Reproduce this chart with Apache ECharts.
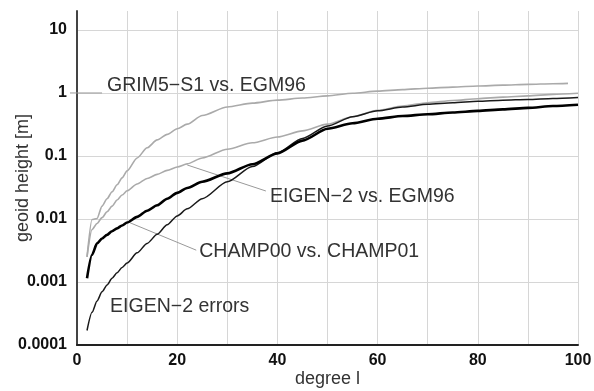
<!DOCTYPE html>
<html>
<head>
<meta charset="utf-8">
<script src="https://cdn.jsdelivr.net/npm/echarts@6/dist/echarts.min.js"></script>
<style>html,body{margin:0;padding:0;background:#fff}#c{width:594px;height:391px}</style>
</head>
<body>
<div id="c"></div>
<script>
// degree l
const degrees = [2,3,4,5,6,7,8,9,10,12,14,16,18,20,22,25,30,35,40,45,50,55,60,65,70,75,80,85,90,95,100];
const grimDegrees = [2,3,4,5,6,7,8,9,10,12,14,16,18,20,22,25,30,35,40,45,50,55,60,65,70,75,80,85,90,95,98];
// geoid height [m]
const grimVsEgm = [0.0025,0.0098,0.0102,0.016,0.021,0.027,0.035,0.045,0.058,0.093,0.135,0.18,0.22,0.27,0.32,0.44,0.6,0.69,0.77,0.83,0.9,0.99,1.07,1.13,1.19,1.24,1.29,1.33,1.37,1.4,1.42];
const eigenVsEgm = [0.0025,0.0068,0.0085,0.0105,0.013,0.016,0.02,0.024,0.028,0.036,0.044,0.051,0.059,0.067,0.075,0.093,0.128,0.162,0.2,0.25,0.32,0.42,0.53,0.62,0.7,0.76,0.81,0.86,0.9,0.95,0.99];
const champ = [0.00115,0.0027,0.0041,0.0049,0.0056,0.0064,0.0071,0.0079,0.0088,0.0108,0.0135,0.0165,0.021,0.026,0.031,0.039,0.053,0.074,0.11,0.175,0.27,0.33,0.39,0.43,0.46,0.49,0.52,0.55,0.58,0.62,0.65];
const eigenErrors = [0.00017,0.00033,0.0005,0.0007,0.0009,0.00115,0.0014,0.0017,0.002,0.0029,0.0041,0.0057,0.0081,0.0112,0.0145,0.021,0.039,0.068,0.113,0.19,0.3,0.42,0.52,0.6,0.66,0.7,0.74,0.77,0.79,0.82,0.85];
const xTicks = [0,20,40,60,80,100];
const yTicks = [0.0001,0.001,0.01,0.1,1,10];
const yTickLabels = ['0.0001','0.001','0.01','0.1','1','10'];
// annotations: text, anchor [degree, value]
const annoTexts = ['GRIM5\u2212S1 vs. EGM96','EIGEN\u22122 vs. EGM96','CHAMP00 vs. CHAMP01','EIGEN\u22122 errors'];
const annoAt = [[6.0,1.29],[38.5,0.0224],[24.4,0.003],[6.6,0.0004]];
const leaderFrom = [[-1.4,1.0],[22.0,0.072],[10.6,0.0087]];
const leaderTo = [[5.0,1.0],[37.7,0.0278],[23.8,0.0032]];

const pairs = (xs, ys) => xs.map((x, i) => [x, ys[i]]);

const chart = echarts.init(document.getElementById('c'), null, {renderer: 'canvas'});
const lineBase = {type: 'line', showSymbol: false, symbol: 'none', smooth: 0.25, smoothMonotone: 'x', animation: false};
chart.setOption({
  animation: false,
  grid: {left: 77, right: 16, top: 11, bottom: 46, containLabel: false, outerBoundsMode: 'none'},
  xAxis: {
    type: 'value', min: 0, max: 100, interval: 10,
    name: 'degree l', nameLocation: 'middle', nameGap: 25, nameMoveOverlap: false,
    nameTextStyle: {fontFamily: 'Liberation Sans', fontSize: 18, color: '#333'},
    axisLine: {lineStyle: {color: '#222', width: 2}},
    axisTick: {show: false},
    axisLabel: {fontFamily: 'Liberation Sans', fontSize: 16, fontWeight: 'bold', color: '#111', margin: 8,
      formatter: v => xTicks.includes(v) ? String(v) : ''},
    splitLine: {show: true, lineStyle: {color: '#d6d6d6', width: 1}}
  },
  yAxis: {
    type: 'log', logBase: 10, min: 0.0001, max: 20,
    name: 'geoid height [m]', nameLocation: 'middle', nameGap: 45, nameMoveOverlap: false,
    nameTextStyle: {fontFamily: 'Liberation Sans', fontSize: 18, color: '#333'},
    axisLine: {show: true, lineStyle: {color: '#444', width: 2}},
    axisTick: {show: false},
    axisLabel: {fontFamily: 'Liberation Sans', fontSize: 16, fontWeight: 'bold', color: '#111', margin: 10,
      showMaxLabel: false,
      formatter: v => { for (let i = 0; i < yTicks.length; i++) { if (Math.abs(Math.log10(v) - Math.log10(yTicks[i])) < 1e-6) return yTickLabels[i]; } return ''; }},
    splitLine: {show: true, showMaxLine: false, lineStyle: {color: '#d6d6d6', width: 1}}
  },
  series: [
    Object.assign({}, lineBase, {name: annoTexts[0], data: pairs(grimDegrees, grimVsEgm), lineStyle: {color: '#aaaaaa', width: 1.6}, z: 2}),
    Object.assign({}, lineBase, {name: annoTexts[1], data: pairs(degrees, eigenVsEgm), lineStyle: {color: '#aaaaaa', width: 1.6}, z: 2}),
    Object.assign({}, lineBase, {name: annoTexts[3], data: pairs(degrees, eigenErrors), lineStyle: {color: '#1a1a1a', width: 1.5}, z: 3}),
    Object.assign({}, lineBase, {name: annoTexts[2], data: pairs(degrees, champ), lineStyle: {color: '#000', width: 2.6}, z: 4})
  ]
});

const px = p => chart.convertToPixel({gridIndex: 0}, p);
const graphics = [];
leaderFrom.forEach((f, i) => {
  const a = px(f), b = px(leaderTo[i]);
  graphics.push({type: 'line', shape: {x1: a[0], y1: a[1], x2: b[0], y2: b[1]}, style: {stroke: '#999', lineWidth: 1}, z: 1});
});
annoAt.forEach((p, i) => {
  const a = px(p);
  graphics.push({type: 'text', x: a[0], y: a[1], style: {text: annoTexts[i], fill: '#333', font: '19.5px "Liberation Sans"', textVerticalAlign: 'middle', verticalAlign: 'middle'}, z: 10});
});
chart.setOption({graphic: graphics});
</script>
</body>
</html>
